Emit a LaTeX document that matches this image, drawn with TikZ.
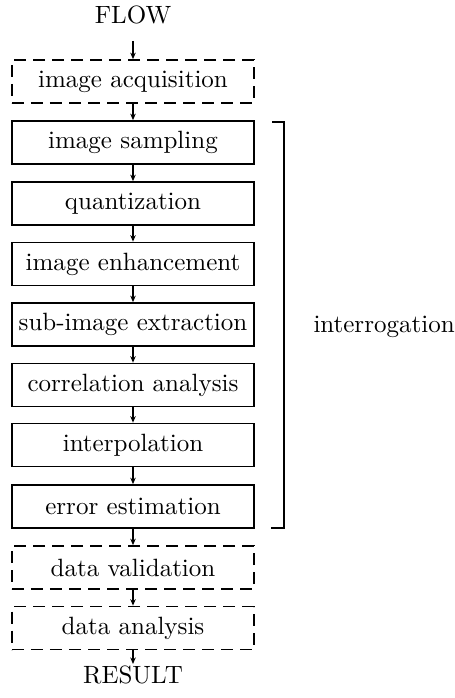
\documentclass[tikz,border=0pt]{standalone}
\usetikzlibrary{arrows.meta}
\begin{document}
\begin{tikzpicture}[x=0.4pt,y=-0.4pt,
  stage/.style={draw,line width=0.7pt,rectangle,minimum width=96.8pt,minimum height=17.2pt,inner sep=0pt,font=\fontsize{10}{12}\selectfont},
  optstage/.style={stage,dashed,dash pattern=on 4.8pt off 2.8pt},
  label/.style={inner sep=0pt,font=\fontsize{10}{12}\selectfont},
  arr/.style={line width=0.5pt,-{Stealth[length=2.6pt,width=2.2pt]}},
  brace/.style={line width=0.6pt}]
\useasboundingbox (0,0) rectangle (454,698);

\node[label] (flow) at (133,15) {FLOW};
\node[optstage] (acq) at (133,81.5) {image acquisition};
\node[stage] (samp) at (133,142.5) {image sampling};
\node[stage] (quant) at (133,203.5) {quantization};
\node[stage] (enh) at (133,264) {image enhancement};
\node[stage] (sub) at (133,324.5) {sub-image extraction};
\node[stage] (corr) at (133,385) {correlation analysis};
\node[stage] (interp) at (133,445) {interpolation};
\node[stage] (err) at (133,506.5) {error estimation};
\node[optstage] (valid) at (133,567.5) {data validation};
\node[optstage] (anal) at (133,628) {data analysis};
\node[label] (result) at (133,675) {RESULT};

\coordinate (flowend) at (133,41);
\coordinate (resultend) at (133,664);

\draw[arr] (flowend) -- (acq.north);
\draw[arr] (acq) -- (samp);
\draw[arr] (samp) -- (quant);
\draw[arr] (quant) -- (enh);
\draw[arr] (enh) -- (sub);
\draw[arr] (sub) -- (corr);
\draw[arr] (corr) -- (interp);
\draw[arr] (interp) -- (err);
\draw[arr] (err) -- (valid);
\draw[arr] (valid) -- (anal);
\draw[arr] (anal.south) -- (resultend);

% bracket grouping the interrogation stages
\coordinate (btop) at (272,122);
\coordinate (bbot) at (271,528);
\draw[brace] (btop) -- (284,122) -- (284,528) -- (bbot);
\node[label,anchor=west] (inter) at (313,327) {interrogation};
\end{tikzpicture}
\end{document}
